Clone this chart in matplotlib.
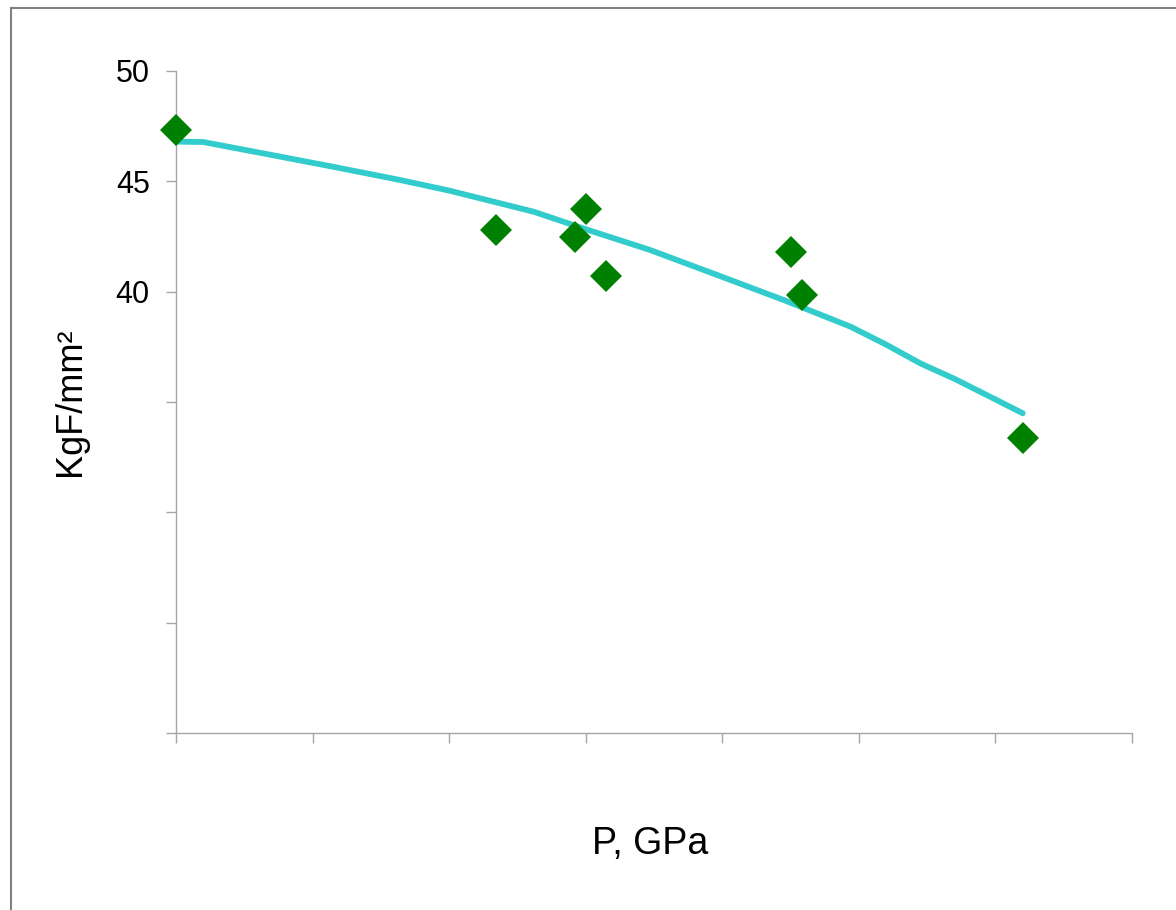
import matplotlib.pyplot as plt
from matplotlib.lines import Line2D

plt.rcParams['font.family'] = ['Liberation Sans', 'DejaVu Sans']

# measured points (P, hardness)
p_meas = [0.0, 2.34, 2.92, 3.0, 3.15, 4.5, 4.58, 6.2]
hv_meas = [47.33, 42.8, 42.48, 43.75, 40.71, 41.8, 39.85, 33.37]

# fitted curve
p_fit = [0.0, 0.2, 0.66, 1.15, 1.64, 2.0, 2.62, 2.98, 3.47, 3.96, 4.45, 4.94, 5.2, 5.45, 5.7, 5.96, 6.2]
hv_fit = [46.8, 46.78, 46.24, 45.66, 45.06, 44.58, 43.62, 42.87, 41.89, 40.76, 39.62, 38.41, 37.6, 36.75, 36.05, 35.24, 34.49]

y_ticks = [20, 25, 30, 35, 40, 45, 50]
y_ticklabels = ['', '', '', '', '40', '45', '50']

fig = plt.figure(figsize=(11.76, 9.1), dpi=100)
ax = fig.add_axes([0.1497, 0.1945, 0.8129, 0.7275])

ax.plot(p_fit, hv_fit, color='#33CCCC', lw=4.2, solid_capstyle='round', zorder=2)
ax.plot(p_meas, hv_meas, linestyle='none', marker='D', markersize=16,
        color='#008000', markeredgewidth=0, clip_on=False, zorder=3)

ax.set_xlim(0, 7)
ax.set_ylim(20, 50)
ax.set_xticks(range(8))
ax.set_xticklabels([])
ax.set_yticks(y_ticks)
ax.set_yticklabels(y_ticklabels, fontsize=22)

for s in ['top', 'right']:
    ax.spines[s].set_visible(False)
for s in ['left', 'bottom']:
    ax.spines[s].set_color('#a6a6a6')
    ax.spines[s].set_linewidth(1.0)
ax.tick_params(axis='both', direction='out', length=7, width=1.0, color='#a6a6a6', pad=12)

ax.set_ylabel('KgF/mm²', fontsize=26)
ax.yaxis.set_label_coords(-0.092, 0.5)
ax.set_xlabel('P, GPa', fontsize=27)
ax.xaxis.set_label_coords(0.496, -0.14)

# outer frame (left and top edges visible)
fig.add_artist(Line2D([0.009, 0.009], [0, 0.991], transform=fig.transFigure, color='#808080', lw=1.5))
fig.add_artist(Line2D([0.009, 1], [0.991, 0.991], transform=fig.transFigure, color='#808080', lw=1.5))

fig.savefig('out.png', dpi=100, facecolor='white')
